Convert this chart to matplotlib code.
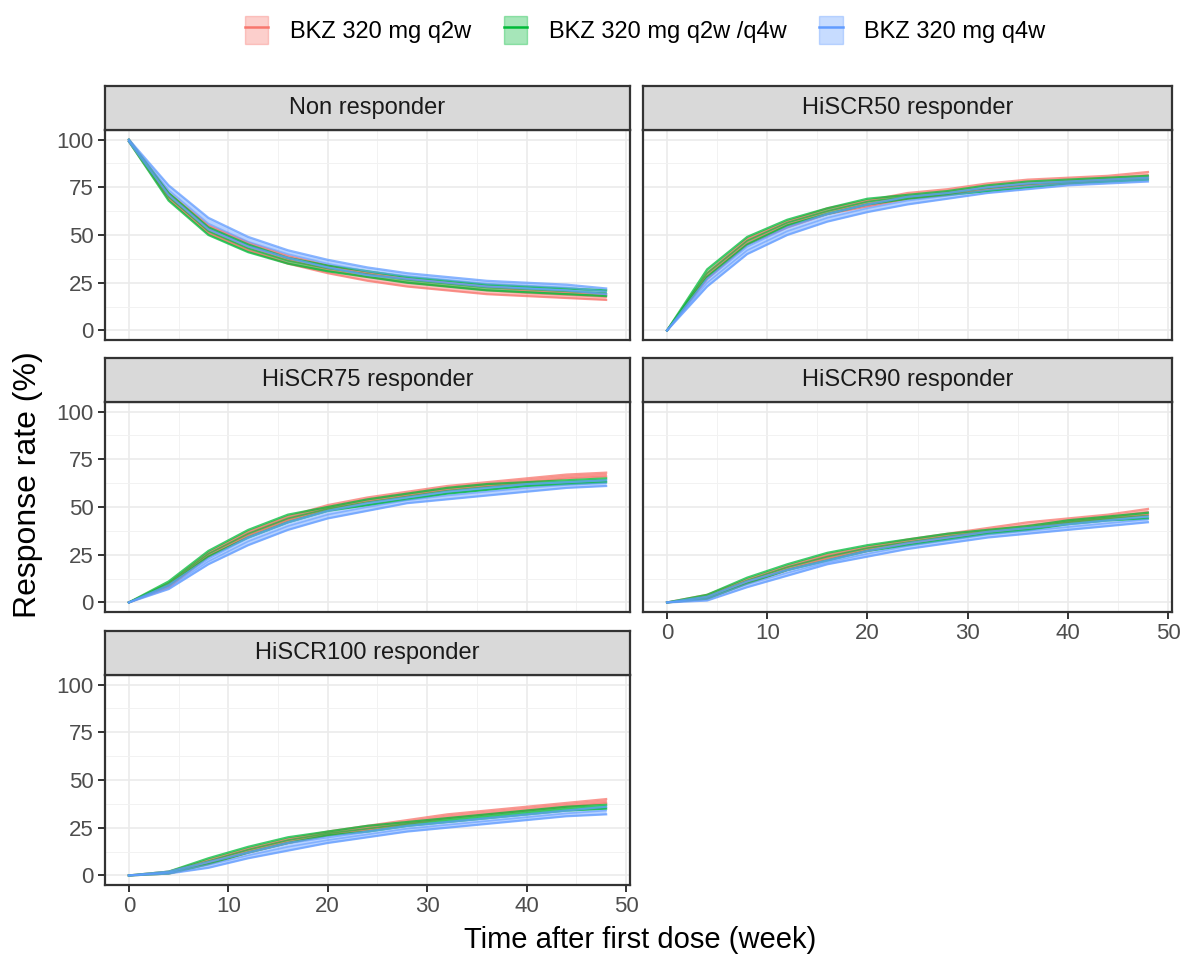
import numpy as np
import matplotlib.pyplot as plt
from matplotlib.patches import Patch
from matplotlib.lines import Line2D

plt.rcParams['font.family'] = ['Liberation Sans', 'DejaVu Sans']

weeks = [0, 4, 8, 12, 16, 20, 24, 28, 32, 36, 40, 44, 48]
groups = ["BKZ 320 mg q2w", "BKZ 320 mg q2w /q4w", "BKZ 320 mg q4w"]
colors = ["#F8766D", "#00BA38", "#619CFF"]
panels = ["Non responder", "HiSCR50 responder", "HiSCR75 responder",
          "HiSCR90 responder", "HiSCR100 responder"]

# lower / upper edge of each band
non_lo = [[99, 69, 51, 42, 35, 30, 26, 23, 21, 19, 18, 17, 16],
          [99, 68, 50, 41, 35, 31, 28, 25, 23, 21, 20, 19, 18],
          [99, 71, 53, 44, 38, 33, 29, 27, 25, 23, 22, 21, 19]]
non_hi = [[100, 72, 55, 46, 39, 34, 30, 27, 25, 23, 21, 20, 19],
          [100, 72, 54, 45, 38, 34, 31, 28, 26, 24, 23, 22, 21],
          [100, 76, 59, 49, 42, 37, 33, 30, 28, 26, 25, 24, 22]]
r50_lo = [[0, 27, 45, 54, 61, 65, 69, 71, 74, 76, 77, 79, 80],
          [0, 28, 45, 55, 61, 66, 69, 71, 73, 75, 77, 78, 79],
          [0, 23, 40, 50, 57, 62, 66, 69, 72, 74, 76, 77, 78]]
r50_hi = [[0, 30, 48, 57, 64, 68, 72, 74, 77, 79, 80, 81, 83],
          [0, 32, 49, 58, 64, 69, 71, 73, 76, 78, 79, 80, 81],
          [0, 27, 44, 54, 61, 66, 70, 72, 75, 77, 78, 79, 80]]
r75_lo = [[0, 8, 24, 35, 43, 49, 53, 56, 59, 61, 63, 65, 66],
          [0, 9, 24, 34, 42, 48, 51, 54, 57, 59, 61, 62, 63],
          [0, 7, 20, 30, 38, 44, 48, 52, 54, 56, 58, 60, 61]]
r75_hi = [[0, 10, 26, 37, 45, 51, 55, 58, 61, 63, 65, 67, 68],
          [0, 11, 27, 38, 46, 50, 54, 57, 60, 62, 63, 64, 65],
          [0, 9, 23, 34, 42, 48, 52, 55, 58, 60, 62, 63, 64]]
r90_lo = [[0, 2, 10, 17, 23, 27, 31, 34, 37, 39, 42, 44, 46],
          [0, 2, 10, 17, 22, 27, 30, 33, 36, 38, 41, 43, 44],
          [0, 1, 8, 14, 20, 24, 28, 31, 34, 36, 38, 40, 42]]
r90_hi = [[0, 4, 12, 19, 25, 29, 33, 36, 39, 42, 44, 46, 49],
          [0, 4, 13, 20, 26, 30, 33, 36, 38, 40, 43, 45, 47],
          [0, 3, 11, 17, 22, 27, 31, 34, 37, 39, 41, 43, 45]]
r100_lo = [[0, 1, 6, 12, 17, 21, 24, 27, 30, 32, 34, 36, 38],
           [0, 1, 6, 12, 17, 21, 23, 26, 28, 30, 32, 34, 35],
           [0, 1, 4, 9, 13, 17, 20, 23, 25, 27, 29, 31, 32]]
r100_hi = [[0, 2, 8, 14, 19, 23, 26, 29, 32, 34, 36, 38, 40],
           [0, 2, 9, 15, 20, 23, 26, 28, 30, 32, 34, 36, 37],
           [0, 2, 7, 12, 17, 20, 23, 26, 28, 30, 32, 34, 36]]

band_lo = [non_lo, r50_lo, r75_lo, r90_lo, r100_lo]
band_hi = [non_hi, r50_hi, r75_hi, r90_hi, r100_hi]

fig = plt.figure(figsize=(11.82, 9.56), dpi=100)
W, H = 1182, 956
col_x = [(105, 630), (643, 1172)]
row_y = [(130, 340), (402, 612), (675, 885)]
strip_h = 44

for i, name in enumerate(panels):
    r, c = divmod(i, 2)
    x0, x1 = col_x[c]
    y0, y1 = row_y[r]
    ax = fig.add_axes([x0 / W, 1 - y1 / H, (x1 - x0) / W, (y1 - y0) / H])
    for g in range(3):
        lo = np.array(band_lo[i][g])
        hi = np.array(band_hi[i][g])
        ax.fill_between(weeks, lo, hi, color=colors[g], alpha=0.45, lw=0)
        ax.plot(weeks, lo, color=colors[g], lw=1.6, alpha=0.75)
        ax.plot(weeks, hi, color=colors[g], lw=1.6, alpha=0.75)
        ax.plot(weeks, (lo + hi) / 2, color=colors[g], lw=1.2, alpha=0.6)
    ax.set_xlim(-2.4, 50.4)
    ax.set_ylim(-5, 105)
    ax.set_xticks([0, 10, 20, 30, 40, 50])
    ax.set_xticks([5, 15, 25, 35, 45], minor=True)
    ax.set_yticks([0, 25, 50, 75, 100])
    ax.set_yticks([12.5, 37.5, 62.5, 87.5], minor=True)
    ax.grid(which='major', color='#EBEBEB', lw=1.2)
    ax.grid(which='minor', color='#F2F2F2', lw=0.7)
    ax.set_axisbelow(True)
    for s in ax.spines.values():
        s.set_color('#333333')
        s.set_linewidth(1.6)
    ax.tick_params(which='minor', length=0)
    ax.tick_params(which='major', color='#333333', labelcolor='#4D4D4D',
                   labelsize=16, length=5, width=1.4, pad=3)
    if c == 1:
        ax.tick_params(axis='y', length=0, labelleft=False)
    if i not in (3, 4):
        ax.tick_params(axis='x', length=0, labelbottom=False)
    # strip
    sax = fig.add_axes([x0 / W, 1 - y0 / H, (x1 - x0) / W, strip_h / H])
    sax.set_facecolor('#D9D9D9')
    sax.set_xticks([])
    sax.set_yticks([])
    for s in sax.spines.values():
        s.set_color('#333333')
        s.set_linewidth(1.6)
    sax.text(0.5, 0.5, name, ha='center', va='center', fontsize=17,
             color='#1A1A1A', transform=sax.transAxes)

fig.text(28 / W, 1 - 485 / H, "Response rate (%)",
         rotation=90, ha='center', va='center', fontsize=23)
fig.text(640 / W, 1 - 940 / H, "Time after first dose (week)",
         ha='center', va='center', fontsize=21)

handles = [(Patch(facecolor=col, edgecolor=col, alpha=0.35),
            Line2D([], [], color=col, lw=1.8)) for col in colors]
fig.legend(handles, groups, loc='center', bbox_to_anchor=(645 / W, 1 - 30 / H),
           ncol=3, frameon=False, fontsize=17, handlelength=1.0,
           handleheight=1.4, columnspacing=1.4, handletextpad=0.9)

fig.savefig("out.png", dpi=100)
